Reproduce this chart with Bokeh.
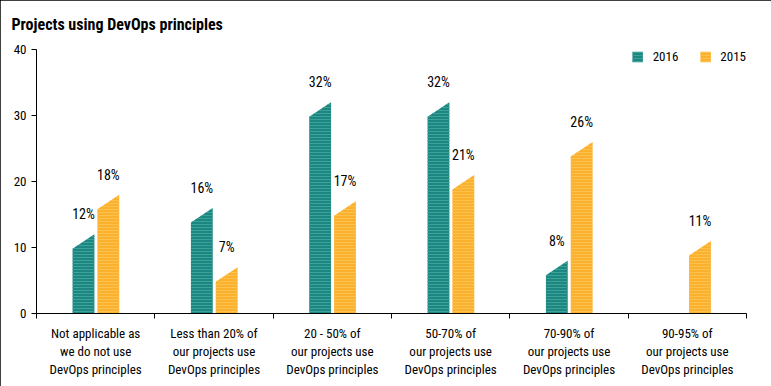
from bokeh.plotting import figure
from bokeh.models import Range1d, FixedTicker, Legend, LegendItem, ColumnDataSource
from bokeh.embed import file_html
from bokeh.resources import INLINE

categories = [
    "Not applicable as\nwe do not use\nDevOps principles",
    "Less than 20% of\nour projects use\nDevOps principles",
    "20 - 50% of\nour projects use\nDevOps principles",
    "50-70% of\nour projects use\nDevOps principles",
    "70-90% of\nour projects use\nDevOps principles",
    "90-95% of\nour projects use\nDevOps principles",
]
series_names = ["2016", "2015"]
values_2016 = [12, 16, 32, 32, 8, None]
values_2015 = [18, 7, 17, 21, 26, 11]
y_ticks = [0, 10, 20, 30, 40]

FONT = "'Liberation Sans Narrow', 'Arial Narrow', 'Roboto Condensed', sans-serif"
TEAL = "#1b8780"
TEAL_H = "#3ea29a"
ORANGE = "#fbb12e"
ORANGE_H = "#fcc24f"

n = len(categories)
p = figure(frame_width=710, frame_height=264, output_backend="svg", toolbar_location=None,
           x_range=Range1d(0, n), y_range=Range1d(0, 40),
           min_border_left=36, min_border_right=25, min_border_top=49, min_border_bottom=73,
           title="Projects using DevOps principles")
p.styles = {"outline": "1px solid black", "outline-offset": "-1px"}
p.title.text_font = FONT
p.title.text_font_size = "16px"
p.title.text_font_style = "bold"
p.title.text_color = "black"
p.title.vertical_align = "top"
p.title.offset = -25
p.title.standoff = 28
p.outline_line_color = None
p.xgrid.grid_line_color = None
p.ygrid.grid_line_color = None

centers = [i + 0.5 for i in range(n)]
p.xaxis.ticker = FixedTicker(ticks=centers, minor_ticks=list(range(n + 1)))
p.xaxis.major_label_overrides = {c: lab for c, lab in zip(centers, categories)}
p.xaxis.major_tick_out = 0
p.xaxis.major_tick_in = 0
p.xaxis.minor_tick_out = 5
p.xaxis.minor_tick_in = 0
p.xaxis.minor_tick_line_color = "black"
p.xaxis.major_label_standoff = 7
p.xaxis.major_label_text_font = FONT
p.xaxis.major_label_text_font_size = "13px"
p.xaxis.major_label_text_color = "black"
p.xaxis.axis_line_color = "black"

p.yaxis.ticker = FixedTicker(ticks=y_ticks)
p.yaxis.minor_tick_line_color = None
p.yaxis.major_tick_out = 5
p.yaxis.major_tick_in = 0
p.yaxis.major_label_standoff = 5
p.yaxis.major_label_text_font = FONT
p.yaxis.major_label_text_font_size = "13px"
p.yaxis.major_label_text_color = "black"
p.yaxis.axis_line_color = "black"

slope = 2.2
width = 0.184
offsets = [-0.103, 0.107]
colors = [TEAL, ORANGE]
hatch_colors = [TEAL_H, ORANGE_H]
renderers = []
for vals, off, col, hcol in zip([values_2016, values_2015], offsets, colors, hatch_colors):
    xs, ys, lx, ly, lt = [], [], [], [], []
    for i, v in enumerate(vals):
        if v is None:
            continue
        x0 = i + 0.5 + off - width / 2
        x1 = i + 0.5 + off + width / 2
        xs.append([x0, x1, x1, x0])
        ys.append([0, 0, v, v - slope])
        lx.append(i + 0.5 + off)
        ly.append(v)
        lt.append(f"{v}%")
    r = p.patches(xs=xs, ys=ys, fill_color=col, line_color=None,
                  hatch_pattern="horizontal_line", hatch_color=hcol, hatch_scale=3, hatch_weight=1)
    renderers.append(r)
    src = ColumnDataSource(dict(x=lx, y=ly, t=lt))
    p.text(x="x", y="y", text="t", source=src, text_align="center", text_baseline="alphabetic",
           y_offset=-20, text_font_size="14px", text_color="black",
           text_font={"value": FONT})

legend = Legend(items=[LegendItem(label=name, renderers=[r]) for name, r in zip(series_names, renderers)],
                location="top_right", orientation="horizontal", border_line_color=None,
                background_fill_alpha=0, glyph_width=13, glyph_height=13, label_text_font=FONT,
                label_text_font_size="13px", label_text_color="black", spacing=20, padding=0,
                margin=0, label_standoff=9, label_height=13)
p.add_layout(legend)

open("out.html", "w").write(file_html(p, INLINE))
